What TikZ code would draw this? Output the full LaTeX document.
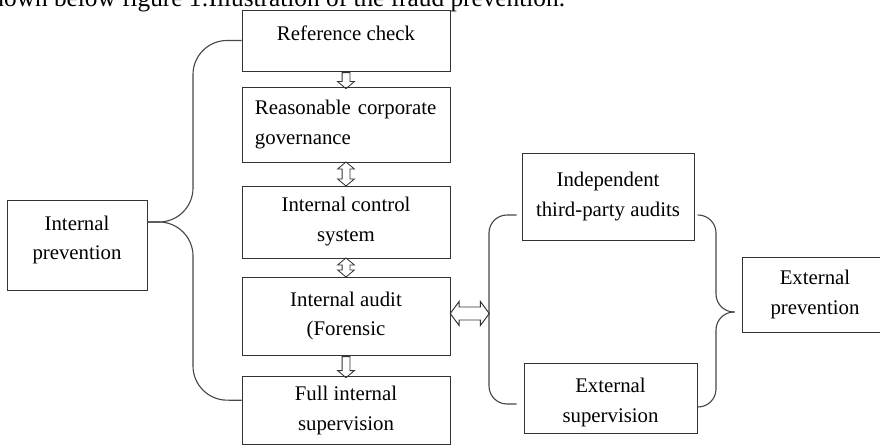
\documentclass[tikz,border=0pt]{standalone}
\usepackage{fontspec}
\setmainfont{Liberation Serif}
\usetikzlibrary{shapes.arrows,calc}
\tikzset{
  boxnode/.style={draw=black!80, line width=0.7pt, align=center, inner sep=0pt,
    font=\fontsize{14.8}{21.3}\selectfont},
  sz/.style 2 args={minimum width=#1*0.025cm, minimum height=#2*0.025cm},
  bline/.style={draw=black!72, line width=0.8pt},
  downarr/.style={single arrow, draw=black!80, line width=0.6pt, inner sep=0.0875cm,
    single arrow head extend=0.1125cm, single arrow tip angle=100,
    shape border rotate=270, minimum width=0pt},
  vdblarr/.style={double arrow, draw=black!80, line width=0.6pt, inner sep=0.0875cm,
    double arrow head extend=0.1125cm, double arrow tip angle=100,
    shape border rotate=90, minimum width=0pt},
  hdblarr/.style={double arrow, draw=black!80, line width=0.7pt, inner sep=0.15cm,
    double arrow head extend=0.1375cm, double arrow tip angle=107,
    minimum width=0pt}
}
\begin{document}
\begin{tikzpicture}[x=0.025cm, y=-0.025cm]
      \useasboundingbox (0,0) rectangle (880,445);
      \clip (0,0) rectangle (880,445);

      \node[font=\fontsize{18}{22}\selectfont, anchor=base east] (cap) at (570,7)
        {shown below figure 1:Illustration of the fraud prevention.};

      % internal column
      \node[boxnode, sz={208}{61}] (rc) at (346,40.5)
        {Reference check\rule[-0.375cm]{0pt}{0.375cm}};
      \node[boxnode, sz={208}{75}, text width=4.55cm, align=left] (rcg) at (346,124.5)
        {Reasonable corporate\\governance};
      \node[boxnode, sz={208}{72}] (ics) at (346,222) {Internal control\\system};
      \node[boxnode, sz={208}{78}] (ia) at (346,316) {Internal audit\\(Forensic};
      \node[boxnode, sz={208}{68.5}] (fis) at (346,410.25) {Full internal\\supervision};
      \node[boxnode, sz={140}{90}] (ip) at (77,245)
        {Internal\\prevention\rule[-0.36cm]{0pt}{0.36cm}};

      % external column
      \node[boxnode, sz={172}{87}] (ita) at (608,196.5) {Independent\\third-party audits};
      \node[boxnode, sz={173}{70}] (es) at (610.5,398)
        {\rule{0pt}{0.6cm}External\\supervision};
      \node[boxnode, sz={146}{75}] (ep) at (815,294.5) {External\\prevention};

      \node[downarr, minimum height=0.4cm] (a1) at ($(rc.south)!0.5!(rcg.north)$) {};
      \node[vdblarr, minimum height=0.6cm] (a2) at ($(rcg.south)!0.5!(ics.north)$) {};
      \node[vdblarr, minimum height=0.475cm] (a3) at ($(ics.south)!0.5!(ia.north)$) {};
      \node[downarr, minimum height=0.525cm] (a4) at ($(ia.south)!0.5!(fis.north)$) {};

      % braces
      \coordinate (iptip) at ($(ip.east)+(0,-23)$);
      \draw[bline, rounded corners=0.85cm] (rc.west) -- (193,40.5) -- (193,222) -- (iptip);
      \draw[bline, rounded corners=0.85cm] ($(fis.west)+(0,-10)$) -- (193,400) -- (193,222) -- (iptip);

      \coordinate (rbk) at (489,313.5);
      \draw[bline, rounded corners=0.45cm] ($(ita.west)+(-5,18.5)$) -- (489,215) -- (489,404)
        -- ($(es.west)+(-7,6)$);
      \node[hdblarr, minimum height=0.975cm] (a5) at ($(ia.east |- rbk)!0.5!(rbk)$) {};

      \coordinate (eptip) at ($(ep.west)+(-7,17.5)$);
      \draw[bline, rounded corners=0.45cm] ($(ita.east)+(3,18.5)$) -- (716,215) -- (716,312) -- (eptip);
      \draw[bline, rounded corners=0.45cm] ($(es.east)+(0,9)$) -- (716,407) -- (716,312) -- (eptip);
\end{tikzpicture}
\end{document}
